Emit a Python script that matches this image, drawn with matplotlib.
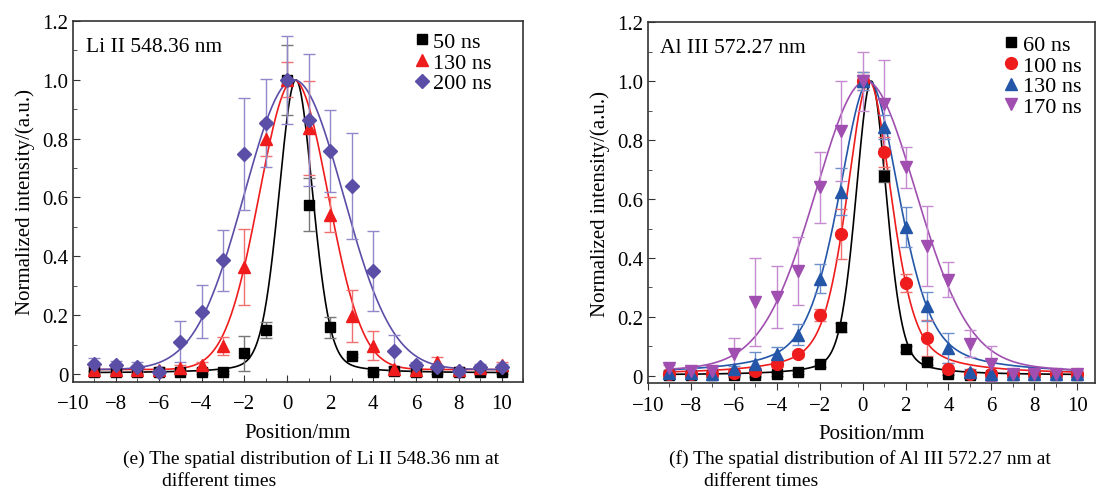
import numpy as np
import matplotlib.pyplot as plt
from matplotlib.ticker import MultipleLocator

plt.rcParams['font.family'] = ['Liberation Serif', 'DejaVu Serif']
plt.rcParams['mathtext.fontset'] = 'stix'

pos = np.arange(-9, 11)

# (e) Li II 548.36 nm
li_50 = [0.005, 0.005, 0.005, 0.005, 0.005, 0.005, 0.005, 0.07, 0.149, 1.0,
         0.576, 0.158, 0.062, 0.005, 0.01, 0.005, 0.005, 0.005, 0.005, 0.005]
li_50_err = [0.005, 0.005, 0.005, 0.005, 0.005, 0.005, 0.005, 0.06, 0.027, 0.12,
             0.09, 0.035, 0.005, 0.005, 0.005, 0.005, 0.005, 0.005, 0.005, 0.005]
li_130 = [0.015, 0.015, 0.015, 0.015, 0.02, 0.03, 0.096, 0.364, 0.8, 1.0,
          0.837, 0.542, 0.197, 0.096, 0.017, 0.015, 0.042, 0.015, 0.02, 0.03]
li_130_err = [0.01, 0.01, 0.01, 0.01, 0.01, 0.01, 0.03, 0.13, 0.06, 0.06,
              0.16, 0.06, 0.09, 0.05, 0.01, 0.01, 0.015, 0.01, 0.01, 0.01]
li_200 = [0.034, 0.03, 0.025, 0.008, 0.11, 0.212, 0.386, 0.748, 0.853, 1.0,
          0.864, 0.759, 0.64, 0.35, 0.079, 0.032, 0.022, 0.01, 0.025, 0.025]
li_200_err = [0.02, 0.015, 0.015, 0.01, 0.07, 0.09, 0.105, 0.19, 0.15, 0.15,
              0.225, 0.14, 0.18, 0.137, 0.055, 0.01, 0.01, 0.01, 0.01, 0.01]

# (f) Al III 572.27 nm
al_60 = [0.003, 0.003, 0.003, 0.003, 0.003, 0.005, 0.012, 0.04, 0.165, 1.0,
         0.677, 0.092, 0.046, 0.007, 0.003, 0.003, 0.003, 0.003, 0.003, 0.003]
al_60_err = [0.005, 0.005, 0.005, 0.005, 0.005, 0.005, 0.005, 0.01, 0.015, 0.02,
             0.02, 0.01, 0.01, 0.005, 0.005, 0.005, 0.005, 0.005, 0.005, 0.005]
al_100 = [0.005, 0.005, 0.008, 0.01, 0.016, 0.04, 0.075, 0.207, 0.481, 1.0,
          0.76, 0.315, 0.129, 0.025, 0.005, 0.005, 0.005, 0.005, 0.005, 0.005]
al_100_err = [0.01, 0.01, 0.01, 0.01, 0.01, 0.01, 0.01, 0.02, 0.085, 0.03,
              0.05, 0.03, 0.06, 0.02, 0.01, 0.01, 0.01, 0.01, 0.01, 0.01]
al_130 = [0.01, 0.01, 0.005, 0.025, 0.04, 0.073, 0.14, 0.33, 0.625, 1.0,
          0.845, 0.504, 0.236, 0.095, 0.013, 0.005, 0.005, 0.005, 0.005, 0.005]
al_130_err = [0.01, 0.01, 0.01, 0.01, 0.04, 0.025, 0.035, 0.05, 0.08, 0.03,
              0.04, 0.068, 0.05, 0.05, 0.01, 0.01, 0.01, 0.01, 0.01, 0.01]
al_170 = [0.027, 0.018, 0.016, 0.075, 0.25, 0.267, 0.357, 0.64, 0.83, 1.0,
          0.922, 0.708, 0.44, 0.327, 0.11, 0.042, 0.008, 0.005, 0.008, 0.005]
al_170_err = [0.01, 0.01, 0.01, 0.055, 0.15, 0.105, 0.115, 0.12, 0.17, 0.1,
              0.15, 0.07, 0.135, 0.06, 0.045, 0.06, 0.01, 0.01, 0.01, 0.01]

# fitted profiles: centre, FWHM, Lorentz fraction, baseline
li_fit = {'50': (0.4, 1.88, 0.2, 0.003), '130': (0.3, 3.77, 0.0, 0.015),
          '200': (0.3, 5.42, 0.0, 0.015)}
al_fit = {'60': (0.4, 1.7, 0.3, 0.003), '100': (0.3, 2.5, 0.5, 0.005),
          '130': (0.3, 3.4, 0.5, 0.005), '170': (0.15, 5.7, 0.2, 0.005)}


def profile(x, c, w, eta, b):
    g = np.exp(-4 * np.log(2) * (x - c) ** 2 / w ** 2)
    l = 1 / (1 + 4 * (x - c) ** 2 / w ** 2)
    return b + (1 - b) * (eta * l + (1 - eta) * g)


xs = np.linspace(-9, 10, 600)

fig = plt.figure(figsize=(11, 4.89), dpi=100)
ax1 = fig.add_axes([0.0664, 0.217, 0.409, 0.738])
ax2 = fig.add_axes([0.589, 0.2147, 0.406, 0.738])

li_series = [('50', li_50, li_50_err, 'black', '#777777', 's', 7.5),
             ('130', li_130, li_130_err, '#ee1c1c', '#f07070', '^', 8.5),
             ('200', li_200, li_200_err, '#5a4ea6', '#9088c8', 'D', 7.5)]
al_series = [('60', al_60, al_60_err, 'black', '#666666', 's', 7.5),
             ('100', al_100, al_100_err, '#ee1c1c', '#f07070', 'o', 8.5),
             ('130', al_130, al_130_err, '#2456a8', '#6d8fcc', '^', 8.5),
             ('170', al_170, al_170_err, '#a04fb0', '#c68ad0', 'v', 8.5)]

for ax, series, fits in [(ax1, li_series, li_fit), (ax2, al_series, al_fit)]:
    for key, y, err, col, ecol, mk, ms in series:
        ax.plot(xs, profile(xs, *fits[key]), color=col, lw=1.2, zorder=2)
        ax.errorbar(pos, y, yerr=err, fmt='none', ecolor=ecol, elinewidth=1,
                    capsize=4, capthick=1, zorder=3)
        ax.plot(pos, y, ls='none', marker=mk, color=col, ms=ms, zorder=4,
                label=key + ' ns')

for ax in (ax1, ax2):
    ax.set_ylim(-0.027, 1.2)
    ax.xaxis.set_major_locator(MultipleLocator(2))
    ax.xaxis.set_minor_locator(MultipleLocator(1))
    ax.yaxis.set_major_locator(MultipleLocator(0.2))
    ax.yaxis.set_minor_locator(MultipleLocator(0.1))
    ax.set_yticks([0, 0.2, 0.4, 0.6, 0.8, 1.0, 1.2])
    ax.set_yticklabels(['0', '0.2', '0.4', '0.6', '0.8', '1.0', '1.2'])
    ax.set_xticks(range(-10, 11, 2))
    ax.set_xticklabels(['\u221210', '\u22128', '\u22126', '\u22124', '\u22122',
                        '0', '2', '4', '6', '8', '10'])
    ax.tick_params(which='both', direction='in', labelsize=15, color='#333333')
    ax.tick_params(which='major', length=5)
    ax.tick_params(which='minor', length=3)
    ax.tick_params(axis='x', pad=9)
    for sp in ax.spines.values():
        sp.set_color('#333333')
        sp.set_linewidth(1.2)
    ax.set_xlabel('Position/mm', fontsize=15, labelpad=7)
    ax.set_ylabel('Normalized intensity/(a.u.)', fontsize=15, labelpad=5)

ax1.set_xlim(-10, 11)
ax2.set_xlim(-10, 10.8)
ax2.set_ylim(-0.024, 1.2)
ax2.tick_params(axis='x', which='both', direction='out', pad=4)

ax1.legend(loc='upper right', frameon=False, fontsize=16, labelspacing=0.0,
           handletextpad=0.0, handlelength=1.0, borderaxespad=0.0,
           bbox_to_anchor=(0.95, 0.995))
ax2.legend(loc='upper right', frameon=False, fontsize=16, labelspacing=0.0,
           handletextpad=0.0, handlelength=1.0, borderaxespad=0.0,
           bbox_to_anchor=(0.99, 0.99))

ax1.text(0.028, 0.93, 'Li II 548.36 nm', transform=ax1.transAxes, fontsize=15.5,
         va='center')
ax2.text(0.028, 0.93, 'Al III 572.27 nm', transform=ax2.transAxes, fontsize=15.5,
         va='center')

fig.text(0.112, 0.061, '(e) The spatial distribution of Li II 548.36 nm at',
         fontsize=14, va='center')
fig.text(0.147, 0.016, 'different times', fontsize=14, va='center')
fig.text(0.608, 0.061, '(f) The spatial distribution of Al III 572.27 nm at',
         fontsize=14, va='center')
fig.text(0.640, 0.016, 'different times', fontsize=14, va='center')

fig.savefig('out.png', dpi=100)
